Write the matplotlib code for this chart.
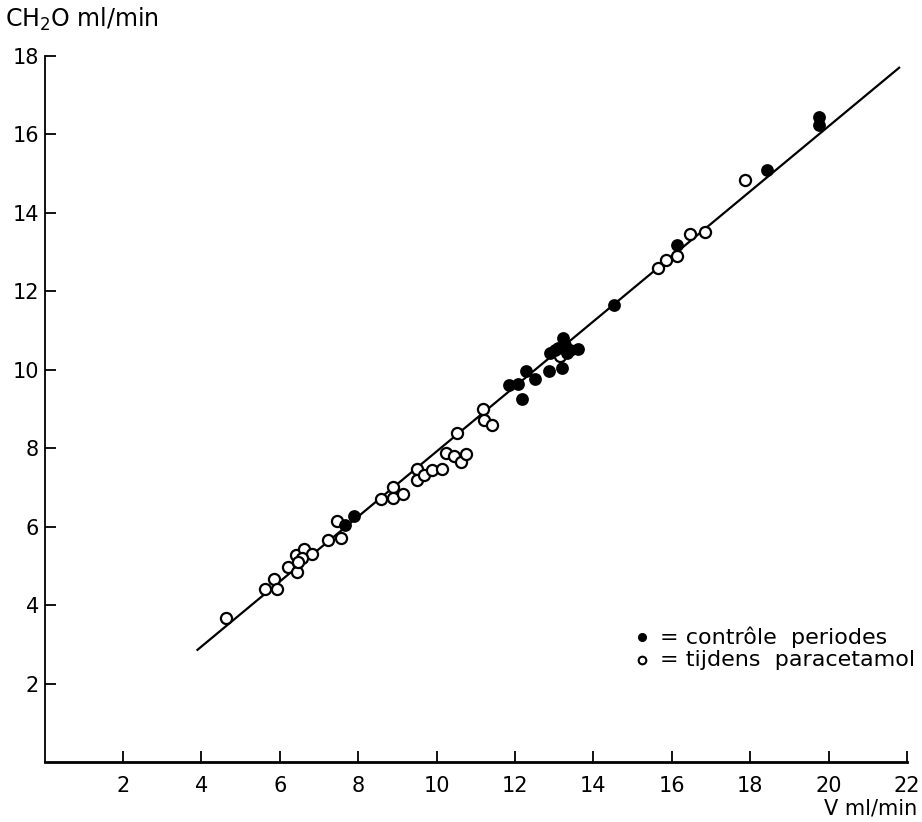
import matplotlib
matplotlib.use("Agg")
import matplotlib.pyplot as plt

# Data
ctrl_x = [7.66, 7.89, 11.85, 12.08, 12.19, 12.28, 12.51, 12.87, 13.19, 12.89, 13.02,
          13.10, 13.23, 13.28, 13.41, 13.61, 13.32, 14.53, 16.14, 18.42, 19.76, 19.76]
ctrl_y = [6.04, 6.28, 9.62, 9.64, 9.26, 9.96, 9.76, 9.96, 10.04, 10.43, 10.51,
          10.55, 10.81, 10.64, 10.51, 10.53, 10.43, 11.66, 13.19, 15.10, 16.44, 16.24]

para_x = [4.62, 5.62, 5.85, 5.93, 6.22, 6.45, 6.41, 6.62, 6.82, 6.56, 6.47, 7.24,
          7.56, 7.47, 8.57, 8.90, 8.90, 9.14, 9.51, 9.51, 9.68, 9.88, 10.15, 10.24,
          10.44, 10.61, 10.75, 10.53, 11.19, 11.21, 11.41, 13.15, 15.66, 15.84,
          16.14, 16.46, 16.85, 17.87]
para_y = [3.67, 4.41, 4.66, 4.41, 4.97, 4.84, 5.29, 5.43, 5.31, 5.20, 5.11, 5.66,
          5.72, 6.15, 6.71, 7.01, 6.74, 6.83, 7.47, 7.18, 7.32, 7.45, 7.47, 7.87,
          7.81, 7.65, 7.86, 8.39, 9.00, 8.72, 8.60, 10.34, 12.59, 12.79, 12.91,
          13.47, 13.50, 14.83]

line_x = [3.9, 21.8]
line_y = [2.86, 17.7]

x_ticks = [2, 4, 6, 8, 10, 12, 14, 16, 18, 20, 22]
y_ticks = [2, 4, 6, 8, 10, 12, 14, 16, 18]

legend_labels = ['= contrôle  periodes', '= tijdens  paracetamol']

plt.rcParams['font.family'] = ['DejaVu Sans']
fig = plt.figure(figsize=(9.22, 8.22), dpi=100)
ax = fig.add_axes([0.0484, 0.073, 0.9353, 0.8589])
ax.set_xlim(0, 22)
ax.set_ylim(0, 18)

ax.plot(line_x, line_y, color='black', lw=1.6, zorder=2)
ax.plot(para_x, para_y, 'o', ms=8, mfc='white', mec='black', mew=1.6, zorder=3)
ax.plot(ctrl_x, ctrl_y, 'o', ms=8, mfc='black', mec='black', mew=1.2, zorder=4)

for s in ['top', 'right']:
    ax.spines[s].set_visible(False)
ax.spines['left'].set_linewidth(1.3)
ax.spines['bottom'].set_linewidth(2.0)

ax.set_xticks(x_ticks)
ax.set_yticks(y_ticks)
ax.tick_params(axis='both', direction='in', length=8, width=1.3, labelsize=15, colors='black')
ax.tick_params(axis='x', pad=10)
ax.tick_params(axis='y', pad=4)

ax.text(-0.046, 1.032, 'CH$_2$O ml/min', transform=ax.transAxes, fontsize=17, ha='left', va='bottom')
ax.text(1.012, -0.052, 'V ml/min', transform=ax.transAxes, fontsize=15, ha='right', va='top')

# legend
ax.plot([0.693], [0.177], 'o', ms=5.5, mfc='black', mec='black', transform=ax.transAxes, clip_on=False)
ax.plot([0.693], [0.1445], 'o', ms=5.5, mfc='white', mec='black', mew=1.5, transform=ax.transAxes, clip_on=False)
ax.text(0.714, 0.177, legend_labels[0], transform=ax.transAxes, fontsize=16, va='center', ha='left')
ax.text(0.714, 0.1445, legend_labels[1], transform=ax.transAxes, fontsize=16, va='center', ha='left')

fig.savefig('out.png', dpi=100, facecolor='white')
